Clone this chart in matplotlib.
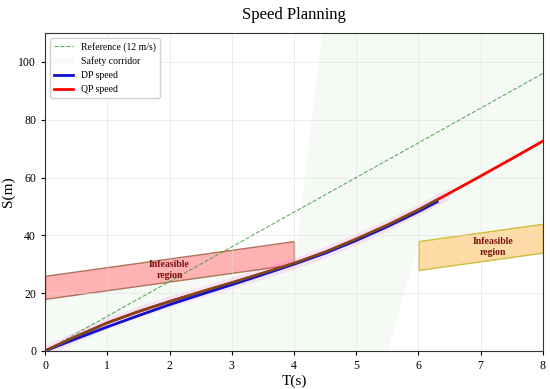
import numpy as np
import matplotlib
matplotlib.use("Agg")
import matplotlib.pyplot as plt
from matplotlib.patches import Patch
from matplotlib.lines import Line2D

plt.rcParams['font.family'] = ['Liberation Serif', 'DejaVu Serif']

# time grid (s)
t = [0, 0.5, 1, 1.5, 2, 2.5, 3, 3.5, 4, 4.5, 5, 5.5, 6, 6.5, 7, 7.5, 8]
# safety corridor bounds (m)
corr_low = [0, 0, 0, 0, 0, 0, 0, 0, 0, 0, 0, 0, 38, 39.5, 41, 42.5, 44]
corr_up = [18, 19.5, 21, 22.5, 24, 25.5, 27, 28.5, 30, 120, 120, 120, 120, 120, 120, 120, 120]
# QP speed profile
qp_s = [0, 5.0, 9.7, 13.6, 17.1, 20.4, 23.6, 26.9, 30.3, 34.2, 38.7, 43.5, 48.8, 54.6, 60.5, 66.5, 72.6]
# DP speed profile
dp_t = [0, 0.5, 1, 1.5, 2, 2.5, 3, 3.5, 4, 4.5, 5, 5.5, 6, 6.3]
dp_s = [0, 4.2, 8.3, 12.2, 16.0, 19.5, 22.9, 26.4, 30.0, 33.8, 38.2, 43.0, 48.2, 51.6]
# infeasible regions: (t_start, t_end, s_low_start, s_low_end, height)
obs1 = (0, 4, 18, 30, 8)
obs2 = (6, 8, 28, 34, 10)
ref_speed = 12

t = np.array(t)
qp_s = np.array(qp_s)

fig = plt.figure(figsize=(5.5, 3.89), dpi=100)
ax = fig.add_axes([0.082, 0.098, 0.905, 0.817])

# safety corridor
ax.fill_between(t, corr_low, corr_up, color='green', alpha=0.04, linewidth=0)

# infeasible regions
for (t0, t1, s0, s1, h), fc, ec, txy in [
        (obs1, (1, 0, 0, 0.3), (0.55, 0.3, 0.15, 0.7), (2.0, 28)),
        (obs2, (1, 0.6, 0, 0.35), (0.75, 0.7, 0.1, 0.8), (7.2, 36))]:
    xs = [t0, t1]
    lo = [s0, s1]
    hi = [s0 + h, s1 + h]
    ax.fill_between(xs, lo, hi, facecolor=fc, edgecolor=ec, linewidth=1)
    ax.text(txy[0], txy[1], 'Infeasible\nregion', ha='center', va='center',
            fontsize=7, fontweight='bold', color='#7a1010')

# reference line
ax.plot([0, 8], [0, ref_speed * 8], '--', color='#3a9a3a', alpha=0.8, lw=0.8)

# uncertainty glow around QP
m = t <= 6.5
ax.fill_between(t[m], qp_s[m] - 2.0, qp_s[m] + 2.0, color='magenta', alpha=0.09, linewidth=0)

ax.plot(t, qp_s, color='red', lw=2)
ax.plot(dp_t, dp_s, color='#1010d0', lw=2)
ax.plot(t[t <= 6.3], qp_s[t <= 6.3], color='#7a4a1a', lw=1.8)
ax.plot([6.0, 6.3], [48.8, 52.3], color='#7a4a1a', lw=1.8)

ax.set_xlim(0, 8)
ax.set_ylim(0, 110)
ax.set_xticks(range(0, 9))
ax.set_yticks(range(0, 101, 20))
ax.tick_params(labelsize=8.5, length=3)
ax.grid(True, color='#dddddd', alpha=0.6, lw=0.6)
for sp in ax.spines.values():
    sp.set_color('#333333')

ax.set_xlabel('T(s)', fontsize=11, labelpad=2)
ax.set_ylabel('S(m)', fontsize=11, labelpad=2)
ax.set_title('Speed Planning', fontsize=12, pad=10)

handles = [Line2D([], [], ls='--', color='#3a9a3a', alpha=0.8, lw=0.8),
           Patch(facecolor='green', alpha=0.04),
           Line2D([], [], color='#1010d0', lw=2),
           Line2D([], [], color='red', lw=2)]
labels = ['Reference (12 m/s)', 'Safety corridor', 'DP speed', 'QP speed']
ax.legend(handles, labels, loc='upper left', fontsize=7, framealpha=0.9)

fig.savefig('out.png', dpi=100)
